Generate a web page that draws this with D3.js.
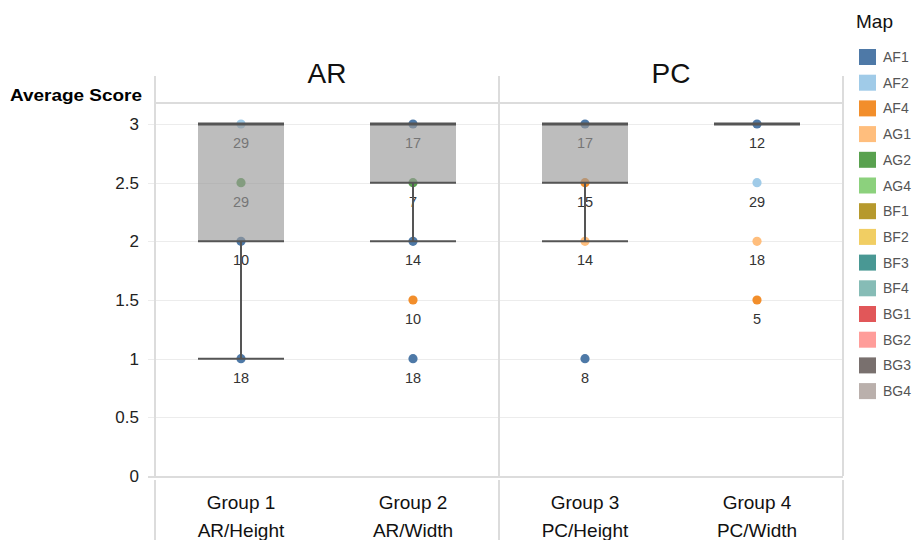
<!DOCTYPE html>
<html>
<head>
<meta charset="utf-8">
<script src="https://cdn.jsdelivr.net/npm/d3@7/dist/d3.min.js"></script>
<style>
  html, body { margin: 0; padding: 0; background: #fff; }
  svg { display: block; font-family: "Liberation Sans", Arial, sans-serif; }
</style>
</head>
<body>
<svg id="chart" width="914" height="540"></svg>
<script>
// ---------- data ----------
const panels = ["AR", "PC"];
const groups = ["Group 1", "Group 2", "Group 3", "Group 4"];
const groupSub = ["AR/Height", "AR/Width", "PC/Height", "PC/Width"];
const yTicks = [0, 0.5, 1, 1.5, 2, 2.5, 3];

const mapKeys = ["AF1","AF2","AF4","AG1","AG2","AG4","BF1","BF2","BF3","BF4","BG1","BG2","BG3","BG4"];
const mapColors = ["#4e79a7","#a0cbe8","#f28e2b","#ffbe7d","#59a14f","#8cd17d","#b6992d","#f1ce63","#499894","#86bcb6","#e15759","#ff9d9a","#79706e","#bab0ac"];

// points: group, map, average score, label (count)
const pointGroup = ["Group 1","Group 1","Group 1","Group 1",
                    "Group 2","Group 2","Group 2","Group 2","Group 2",
                    "Group 3","Group 3","Group 3","Group 3",
                    "Group 4","Group 4","Group 4","Group 4"];
const pointMap   = ["AF2","AG2","AF1","AF1",
                    "AF1","AG2","AF1","AF4","AF1",
                    "AF1","AF4","AG1","AF1",
                    "AF1","AF2","AG1","AF4"];
const pointScore = [3, 2.5, 2, 1,
                    3, 2.5, 2, 1.5, 1,
                    3, 2.5, 2, 1,
                    3, 2.5, 2, 1.5];
const pointLabel = [29, 29, 10, 18,
                    17, 7, 14, 10, 18,
                    17, 15, 14, 8,
                    12, 29, 18, 5];

// box plot statistics per group
const boxQ1       = [2, 2.5, 2.5, 3];
const boxQ3       = [3, 3, 3, 3];
const whiskerLow  = [1, 2, 2, 3];
const whiskerHigh = [3, 3, 3, 3];

// ---------- layout ----------
const svg = d3.select("#chart");
const plotLeft = 155, plotRight = 843, plotTop = 103, plotBottom = 477, frameTop = 76;

const x = d3.scaleBand().domain(groups).range([plotLeft, plotRight]);
const xp = d3.scaleBand().domain(panels).range([plotLeft, plotRight]);
const y = d3.scaleLinear().domain([0, 3]).range([476, 124]);
const color = d3.scaleOrdinal().domain(mapKeys).range(mapColors);

// gridlines
svg.append("g").selectAll("line").data(yTicks.filter(d => d > 0)).join("line")
  .attr("x1", plotLeft - 7).attr("x2", plotRight)
  .attr("y1", d => Math.round(y(d)) + 0.5).attr("y2", d => Math.round(y(d)) + 0.5)
  .attr("stroke", "#ececec").attr("stroke-width", 1);

// frame lines
const frame = svg.append("g").attr("stroke", "#dcdcdc").attr("stroke-width", 2);
frame.append("line").attr("x1", plotLeft).attr("x2", plotRight).attr("y1", plotTop).attr("y2", plotTop);
frame.append("line").attr("x1", plotLeft - 7).attr("x2", plotRight).attr("y1", plotBottom).attr("y2", plotBottom);
[plotLeft, xp("PC"), plotRight].forEach(px => {
  frame.append("line").attr("x1", px).attr("x2", px).attr("y1", frameTop).attr("y2", plotBottom - 1);
  frame.append("line").attr("x1", px).attr("x2", px).attr("y1", plotBottom + 3).attr("y2", 540);
});

// panel titles
svg.append("g").selectAll("text").data(panels).join("text")
  .attr("x", d => xp(d) + xp.bandwidth() / 2).attr("y", 83)
  .attr("text-anchor", "middle").attr("font-size", 28).attr("fill", "#111")
  .text(d => d);

// y axis title
svg.append("text").attr("x", 10).attr("y", 101)
  .attr("font-size", 17).attr("font-weight", "bold").attr("fill", "#000")
  .attr("textLength", 132).attr("lengthAdjust", "spacingAndGlyphs")
  .text("Average Score");

// y axis tick labels
const yAxis = d3.axisLeft(y).tickValues(yTicks).tickSize(0).tickPadding(0)
  .tickFormat(d3.format("~g"));
const ya = svg.append("g").attr("transform", "translate(139,0)").call(yAxis);
ya.select(".domain").remove();
ya.selectAll("text").attr("font-size", 17).attr("fill", "#222")
  .attr("font-family", "Liberation Sans, Arial, sans-serif");

// x labels (two lines)
const xl = svg.append("g").selectAll("text").data(groups).join("text")
  .attr("x", d => x(d) + x.bandwidth() / 2)
  .attr("text-anchor", "middle").attr("font-size", 19).attr("fill", "#111");
xl.append("tspan").attr("x", d => x(d) + x.bandwidth() / 2).attr("y", 509).text(d => d);
xl.append("tspan").attr("x", d => x(d) + x.bandwidth() / 2).attr("y", 537).text((d, i) => groupSub[i]);

// points
const pts = pointScore.map((s, i) => ({ g: pointGroup[i], m: pointMap[i], s, l: pointLabel[i] }));
const cx = d => x(d.g) + x.bandwidth() / 2;
svg.append("g").selectAll("circle").data(pts).join("circle")
  .attr("cx", cx).attr("cy", d => y(d.s)).attr("r", 4.6)
  .attr("fill", d => color(d.m));
svg.append("g").selectAll("text").data(pts).join("text")
  .attr("x", cx).attr("y", d => y(d.s) + 24)
  .attr("text-anchor", "middle").attr("font-size", 14.5).attr("fill", "#333")
  .text(d => d.l);

// boxes
const boxW = x.bandwidth() * 0.5;
const boxes = groups.map((g, i) => ({ g, q1: boxQ1[i], q3: boxQ3[i], lo: whiskerLow[i], hi: whiskerHigh[i] }));
const bx = d => x(d.g) + x.bandwidth() / 2 - boxW / 2;
svg.append("g").selectAll("rect").data(boxes.filter(d => d.q3 > d.q1)).join("rect")
  .attr("x", bx).attr("width", boxW)
  .attr("y", d => y(d.q3)).attr("height", d => y(d.q1) - y(d.q3))
  .attr("fill", "#999").attr("fill-opacity", 0.65);

const bl = svg.append("g").attr("stroke", "#555");
// whiskers
bl.selectAll(".wl").data(boxes.filter(d => d.lo < d.q1)).join("line").attr("class", "wl")
  .attr("x1", d => bx(d) + boxW / 2).attr("x2", d => bx(d) + boxW / 2)
  .attr("y1", d => y(d.q1)).attr("y2", d => y(d.lo)).attr("stroke-width", 2);
bl.selectAll(".wc").data(boxes.filter(d => d.lo < d.q1)).join("line").attr("class", "wc")
  .attr("x1", bx).attr("x2", d => bx(d) + boxW)
  .attr("y1", d => y(d.lo)).attr("y2", d => y(d.lo)).attr("stroke-width", 2);
// box bottom
bl.selectAll(".bb").data(boxes.filter(d => d.q3 > d.q1)).join("line").attr("class", "bb")
  .attr("x1", bx).attr("x2", d => bx(d) + boxW)
  .attr("y1", d => y(d.q1)).attr("y2", d => y(d.q1)).attr("stroke-width", 2);
// box top / median
bl.selectAll(".bt").data(boxes).join("line").attr("class", "bt")
  .attr("x1", bx).attr("x2", d => bx(d) + boxW)
  .attr("y1", d => y(d.q3)).attr("y2", d => y(d.q3)).attr("stroke-width", 3);

// legend
const leg = svg.append("g");
leg.append("text").attr("x", 856).attr("y", 28).attr("font-size", 19).attr("fill", "#111").text("Map");
const li = leg.selectAll("g.item").data(mapKeys).join("g").attr("class", "item")
  .attr("transform", (d, i) => `translate(859,${57 + i * 25.7})`);
li.append("rect").attr("x", 0).attr("y", -8).attr("width", 17).attr("height", 16)
  .attr("fill", d => color(d));
li.append("text").attr("x", 24).attr("y", 5).attr("font-size", 14).attr("fill", "#555").text(d => d);
</script>
</body>
</html>
